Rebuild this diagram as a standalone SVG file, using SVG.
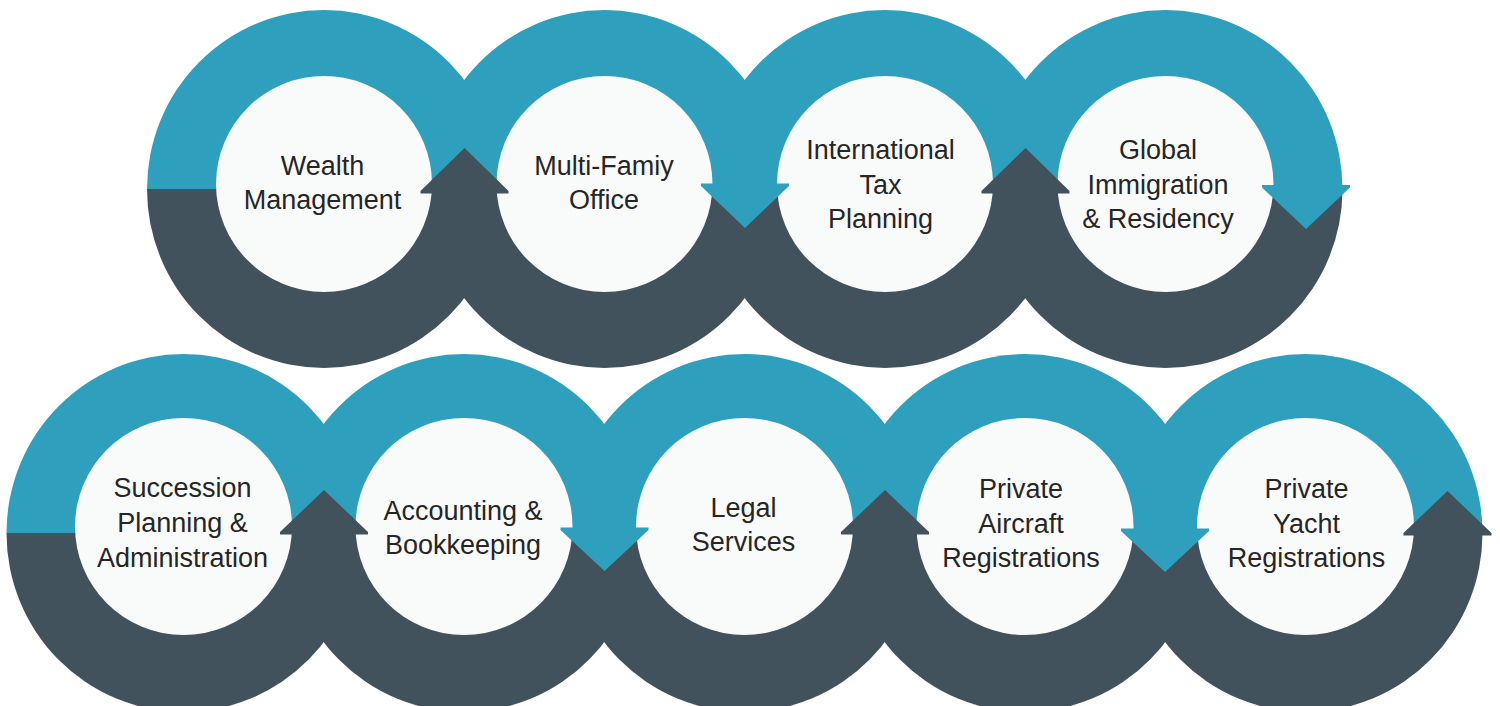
<svg xmlns="http://www.w3.org/2000/svg" width="1500" height="706" viewBox="0 0 1500 706">
  <style>
    .blue { fill: #2f9fbe; }
    .dark { fill: #42525c; }
    .disc { fill: #f9fafa; }
    .lbl { font-family: "Liberation Sans", Arial, sans-serif; font-size: 27px; fill: #262626; text-anchor: middle; }
  </style>
  <rect width="1500" height="706" fill="#ffffff"/>

  <!-- ring bands (upper half blue, lower half dark) -->
  <g id="bands">
    <!-- top row, band centre y=189 -->
    <path class="blue" d="M147,189 A177,179 0 0 1 501,189 Z"/>
    <path class="dark" d="M147,189 A177,179 0 0 0 501,189 Z"/>
    <path class="blue" d="M427.5,189 A177,179 0 0 1 781.5,189 Z"/>
    <path class="dark" d="M427.5,189 A177,179 0 0 0 781.5,189 Z"/>
    <path class="blue" d="M708,189 A177,179 0 0 1 1062,189 Z"/>
    <path class="dark" d="M708,189 A177,179 0 0 0 1062,189 Z"/>
    <path class="blue" d="M988.5,189 A177,179 0 0 1 1342.5,189 Z"/>
    <path class="dark" d="M988.5,189 A177,179 0 0 0 1342.5,189 Z"/>
    <!-- bottom row, band centre y=533 -->
    <path class="blue" d="M6.5,533 A177,179 0 0 1 360.5,533 Z"/>
    <path class="dark" d="M6.5,533 A177,179 0 0 0 360.5,533 Z"/>
    <path class="blue" d="M287,533 A177,179 0 0 1 641,533 Z"/>
    <path class="dark" d="M287,533 A177,179 0 0 0 641,533 Z"/>
    <path class="blue" d="M567.5,533 A177,179 0 0 1 921.5,533 Z"/>
    <path class="dark" d="M567.5,533 A177,179 0 0 0 921.5,533 Z"/>
    <path class="blue" d="M848,533 A177,179 0 0 1 1202,533 Z"/>
    <path class="dark" d="M848,533 A177,179 0 0 0 1202,533 Z"/>
    <path class="blue" d="M1128.5,533 A177,179 0 0 1 1482.5,533 Z"/>
    <path class="dark" d="M1128.5,533 A177,179 0 0 0 1482.5,533 Z"/>
  </g>

  <!-- nodes -->
  <g id="node-wealth-management">
    <circle class="disc" cx="324" cy="184" r="108"/>
    <text class="lbl" x="322.5" y="175">Wealth</text>
    <text class="lbl" x="322.5" y="209">Management</text>
  </g>
  <g id="node-multi-family-office">
    <circle class="disc" cx="604.5" cy="184" r="108"/>
    <text class="lbl" x="604" y="175">Multi-Famiy</text>
    <text class="lbl" x="604" y="209">Office</text>
  </g>
  <g id="node-international-tax-planning">
    <circle class="disc" cx="885" cy="184" r="108"/>
    <text class="lbl" x="880.5" y="159">International</text>
    <text class="lbl" x="880.5" y="194">Tax</text>
    <text class="lbl" x="880.5" y="228">Planning</text>
  </g>
  <g id="node-global-immigration">
    <circle class="disc" cx="1165.5" cy="184" r="108"/>
    <text class="lbl" x="1158" y="159">Global</text>
    <text class="lbl" x="1158" y="194">Immigration</text>
    <text class="lbl" x="1158" y="228">&amp; Residency</text>
  </g>
  <g id="node-succession-planning">
    <circle class="disc" cx="183.5" cy="526.5" r="108.5"/>
    <text class="lbl" x="182.5" y="497">Succession</text>
    <text class="lbl" x="182.5" y="532">Planning &amp;</text>
    <text class="lbl" x="182.5" y="567">Administration</text>
  </g>
  <g id="node-accounting">
    <circle class="disc" cx="464" cy="526.5" r="108.5"/>
    <text class="lbl" x="463" y="520">Accounting &amp;</text>
    <text class="lbl" x="463" y="554">Bookkeeping</text>
  </g>
  <g id="node-legal-services">
    <circle class="disc" cx="744.5" cy="526.5" r="108.5"/>
    <text class="lbl" x="743.5" y="517">Legal</text>
    <text class="lbl" x="743.5" y="551">Services</text>
  </g>
  <g id="node-private-aircraft">
    <circle class="disc" cx="1025" cy="526.5" r="108.5"/>
    <text class="lbl" x="1021" y="498">Private</text>
    <text class="lbl" x="1021" y="533">Aircraft</text>
    <text class="lbl" x="1021" y="567">Registrations</text>
  </g>
  <g id="node-private-yacht">
    <circle class="disc" cx="1305.5" cy="526.5" r="108.5"/>
    <text class="lbl" x="1306.5" y="498">Private</text>
    <text class="lbl" x="1306.5" y="533">Yacht</text>
    <text class="lbl" x="1306.5" y="567">Registrations</text>
  </g>

  <!-- connectors: arrowheads at ring junctions -->
  <g id="connectors">
    <!-- top row -->
    <polygon class="dark" points="464.5,148 508.5,191 508.5,193.5 420.5,193.5 420.5,191"/>
    <polygon class="blue" points="701,183.5 789,183.5 789,186 745,228 701,186"/>
    <polygon class="dark" points="1025.5,148 1069.5,191 1069.5,193.5 981.5,193.5 981.5,191"/>
    <polygon class="blue" points="1262,185 1350,185 1350,187.5 1306,229 1262,187.5"/>
    <!-- bottom row -->
    <polygon class="dark" points="324,490 368,532 368,534.5 280,534.5 280,532"/>
    <polygon class="blue" points="560.5,527.5 648.5,527.5 648.5,530 604.5,571 560.5,530"/>
    <polygon class="dark" points="885,490 929,532 929,534.5 841,534.5 841,532"/>
    <polygon class="blue" points="1121,528.5 1209,528.5 1209,531 1165,572 1121,531"/>
    <polygon class="dark" points="1447.5,491 1491.5,533 1491.5,535.5 1403.5,535.5 1403.5,533"/>
  </g>
</svg>
